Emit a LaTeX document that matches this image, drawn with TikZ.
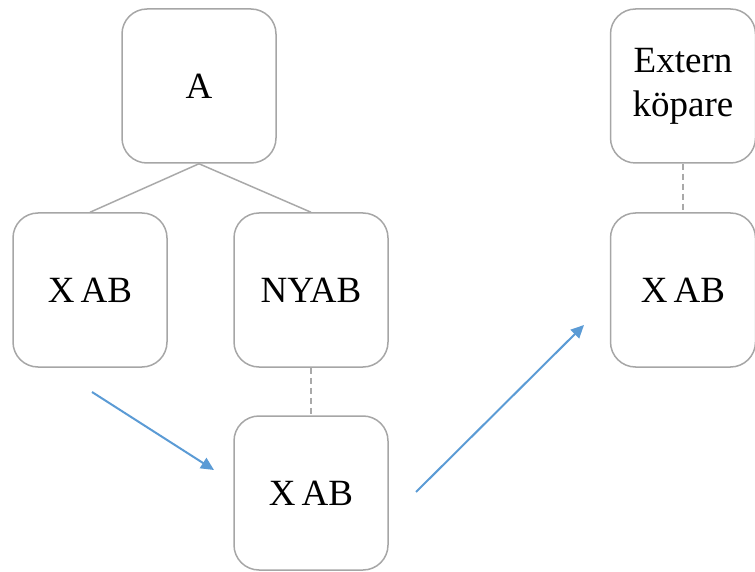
\documentclass[tikz,border=0pt]{standalone}
\usepackage{fontspec}
\setmainfont{Liberation Serif}
\usepackage{tikz}
\usepackage{xcolor}
\usetikzlibrary{arrows.meta,positioning}
\definecolor{BoxGray}{HTML}{A6A6A6}
\definecolor{LinkGray}{HTML}{A9A9A9}
\definecolor{FlowBlue}{HTML}{5B9BD5}

\begin{document}
\begin{tikzpicture}[x=1pt, y=-1pt,
    unit/.style={draw=BoxGray, line width=1.5pt, rounded corners=25pt,
        minimum width=154pt, minimum height=154pt, align=center,
        font=\fontsize{37}{44}\selectfont},
    link/.style={LinkGray, line width=1.5pt},
    flow/.style={-{Triangle[length=13pt,width=12pt]}, FlowBlue, line width=2pt}]
    \useasboundingbox (0,0) rectangle (755,572);

    % Group structure
    \node[unit] (parent) at (199,86) {A};
    \node[unit] (xab) at (90,290) {X\,AB};
    \node[unit] (nyab) at (311,290) {NYAB};
    \draw[link] (parent.south) -- (xab.north);
    \draw[link] (parent.south) -- (nyab.north);

    % X AB moved under NYAB
    \node[unit] (xabmoved) at (311,493) {X\,AB};
    \draw[link, dashed, dash pattern=on 6pt off 4pt] (nyab.south) -- (xabmoved.north);

    % External buyer
    \node[unit, minimum width=145pt] (buyer) at (683,86) {Extern\\köpare};
    \node[unit, minimum width=145pt] (xabsold) at (683,290) {X\,AB};
    \draw[link, dashed, dash pattern=on 6pt off 4pt] (buyer.south) -- (xabsold.north);

    % Flow arrows
    \coordinate (f1s) at (92,392);
    \coordinate (f1e) at (214,470);
    \coordinate (f2s) at (416,492);
    \coordinate (f2e) at (584,325);
    \draw[flow] (f1s) -- (f1e);
    \draw[flow] (f2s) -- (f2e);

\end{tikzpicture}
\end{document}
